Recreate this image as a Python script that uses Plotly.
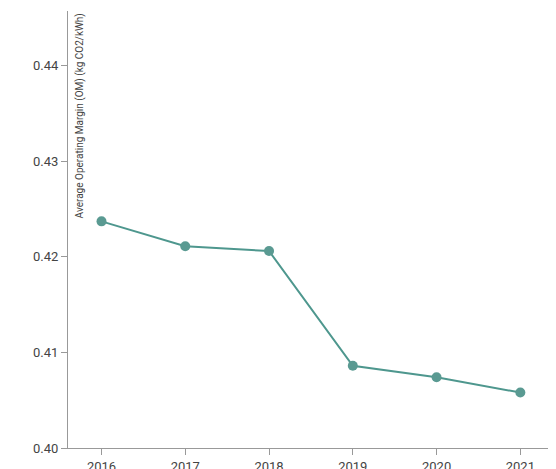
import plotly.graph_objects as go

years = ["2016", "2017", "2018", "2019", "2020", "2021"]
om = [0.4237, 0.4211, 0.4206, 0.4086, 0.4074, 0.4058]

fig = go.Figure(go.Scatter(
    x=list(range(len(years))), y=om, mode="lines+markers",
    line=dict(color="#4e978e", width=2),
    marker=dict(color="#5a9a92", size=10),
))
fig.update_layout(
    width=556, height=469, plot_bgcolor="white", paper_bgcolor="white",
    margin=dict(l=60, r=11, t=3, b=29), showlegend=False,
    font=dict(family="Roboto", size=13, color="#444"),
)
fig.update_xaxes(range=[-0.4, 5.39], tickvals=list(range(len(years))), ticktext=years,
                 showline=True, linecolor="#999", ticks="outside", tickcolor="#999",
                 ticklen=6, showgrid=False, zeroline=False)
fig.update_yaxes(range=[0.40, 0.4457], tickvals=[0.40, 0.41, 0.42, 0.43, 0.44],
                 tickformat=".2f", showline=True, linecolor="#999", ticks="outside",
                 tickcolor="#999", ticklen=6, showgrid=False, zeroline=False)
fig.add_annotation(text="Average Operating Margin (OM) (kg CO2/kWh)", xref="paper", yref="paper",
                   x=0.008, y=1.0, xanchor="left", yanchor="top", textangle=-90,
                   showarrow=False, font=dict(size=10, color="#444"))
fig.write_html("out.html")
